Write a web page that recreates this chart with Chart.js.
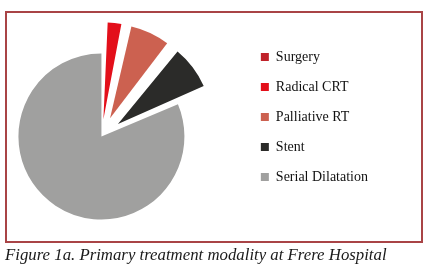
<!DOCTYPE html>
<html>
<head>
<meta charset="utf-8">
<script src="https://cdn.jsdelivr.net/npm/chart.js@4"></script>
<style>
  html, body { margin: 0; padding: 0; background: #fff; }
  body { width: 426px; height: 277px; position: relative; overflow: hidden; }
  #frame {
    position: absolute; left: 5px; top: 11px; width: 414px; height: 228px;
    border: 2px solid #a94446;
  }
  #wrap { position: absolute; left: -42px; top: 0; width: 467px; height: 277px; }
  #caption {
    position: absolute; left: 5px; top: 245px;
    font-family: "Liberation Serif", serif; font-style: italic; font-size: 16.8px;
    color: #1a1a1a; white-space: nowrap;
  }
</style>
</head>
<body>
<div id="frame"></div>
<div id="wrap"><canvas id="grafico" width="467" height="277"></canvas></div>
<div id="caption">Figure 1a. Primary treatment modality at Frere Hospital</div>
<script>
const LABELS = ['Surgery', 'Radical CRT', 'Palliative RT', 'Stent', 'Serial Dilatation'];
const PATIENTS = [1, 9, 22, 24, 244];
const COLORI = ['#c0222a', '#e30f1a', '#cc6150', '#2b2b29', '#a0a09f'];
// Chart.js v4 sposta lo spicchio di circa offset/4 * (2 - sin(angolo)), quindi valori diversi per spicchio
const ESPLOSO = [64, 69, 81, 83, 0];

const ctx = document.getElementById('grafico').getContext('2d');

new Chart(ctx, {
  type: 'pie',
  data: {
    labels: LABELS,
    datasets: [{
      data: PATIENTS,
      backgroundColor: COLORI,
      borderWidth: 0,
      offset: ESPLOSO,
      radius: 83,
      clip: false
    }]
  },
  options: {
    responsive: false,
    animation: false,
    layout: { padding: { left: 0, right: 47, top: 34, bottom: 38 } },
    plugins: {
      tooltip: { enabled: false },
      legend: {
        position: 'right',
        align: 'start',
        labels: {
          boxWidth: 8,
          boxHeight: 8,
          padding: 16,
          color: '#111',
          font: { family: 'Liberation Serif', size: 14 }
        }
      }
    }
  }
});
</script>
</body>
</html>
